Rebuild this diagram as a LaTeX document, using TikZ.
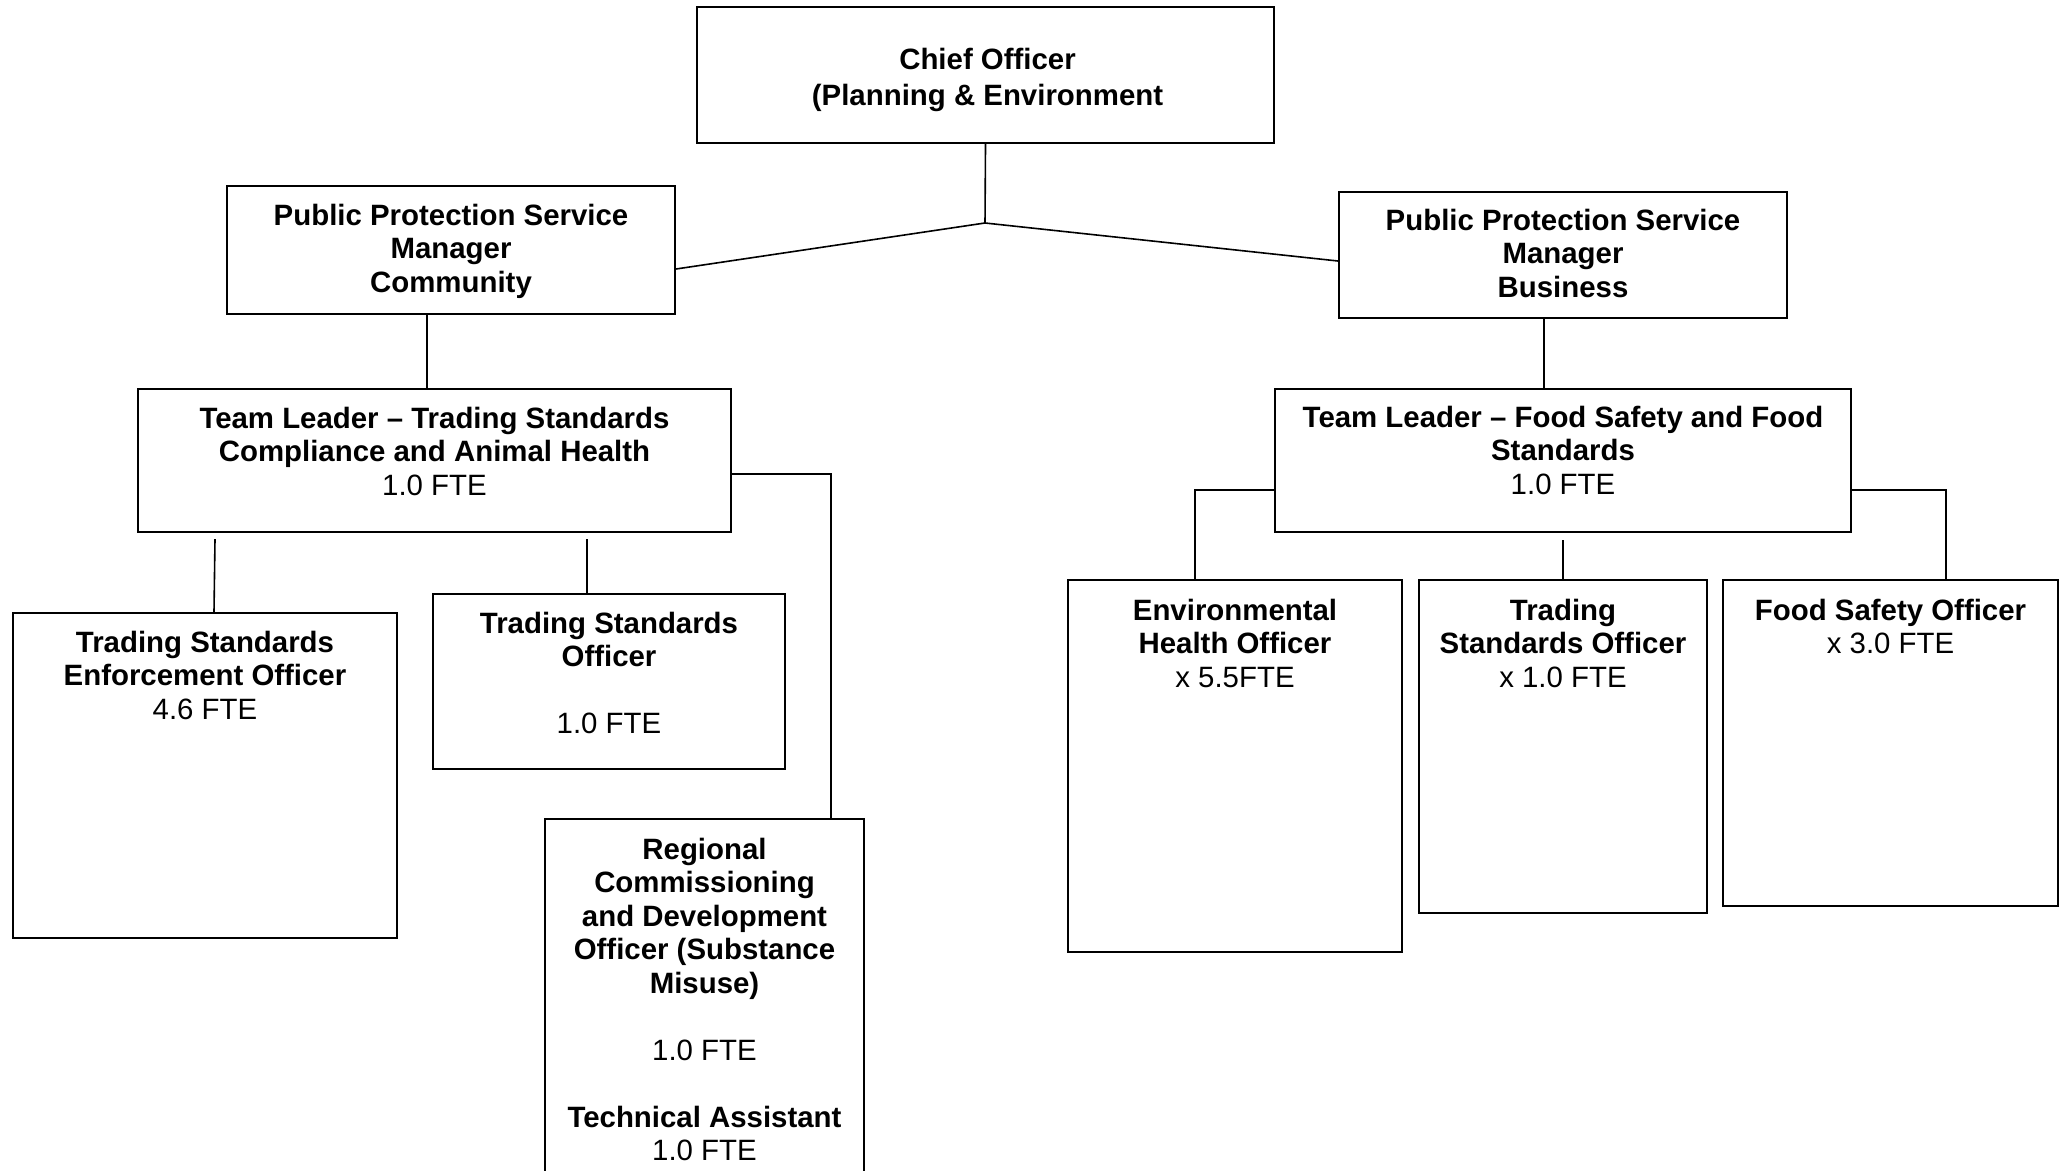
\documentclass[tikz,border=0pt]{standalone}
\usepackage{fontspec}
\setmainfont{Liberation Sans}
\usetikzlibrary{calc}
\begin{document}
\begin{tikzpicture}[x=0.5pt,y=-0.5pt,
  box/.style={draw=black, line width=1.1pt, rectangle, inner sep=0pt},
  conn/.style={draw=black, line width=0.8pt},
  ttl/.style={anchor=north, inner sep=0pt, align=center, font=\fontsize{14.7pt}{16.75pt}\selectfont\bfseries},
]
\useasboundingbox (0,0) rectangle (2059,1171);
\fill[white] (0,0) rectangle (2059,1171);

% boxes
\node[box, minimum width=288.5pt, minimum height=68pt] (chief) at (985.5,75) {};
\node[box, minimum width=224pt, minimum height=64pt] (ppsmC) at (451,250) {};
\node[box, minimum width=224pt, minimum height=63pt] (ppsmB) at (1563,255) {};
\node[box, minimum width=296.5pt, minimum height=71.5pt] (tlts) at (434.5,460.5) {};
\node[box, minimum width=288pt, minimum height=71.5pt] (tlfs) at (1563,460.5) {};
\node[box, minimum width=192pt, minimum height=162.5pt] (tse) at (205,775.5) {};
\node[box, minimum width=176pt, minimum height=87.5pt] (tso) at (609,681.5) {};
\node[box, minimum width=159.5pt, minimum height=185.5pt] (reg) at (704.5,1004.5) {};
\node[box, minimum width=167pt, minimum height=186pt] (eho) at (1235,766) {};
\node[box, minimum width=144pt, minimum height=166.5pt] (tsob) at (1563,746.5) {};
\node[box, minimum width=167.5pt, minimum height=163pt] (fso) at (1890.5,743) {};

% texts
\node[ttl, anchor=center, font=\fontsize{14.7pt}{17.75pt}\selectfont\bfseries] (chiefT) at ($(chief.center)+(2,5)$) {Chief Officer\\(Planning \& Environment};
\node[ttl] (ppsmCT) at ($(ppsmC.north)+(0,18.5)$) {Public Protection Service\\Manager\\Community};
\node[ttl] (ppsmBT) at ($(ppsmB.north)+(0,17.5)$) {Public Protection Service\\Manager\\Business};
\node[ttl] (tltsT) at ($(tlts.north)+(0,18.5)$) {Team Leader – Trading Standards\\Compliance and Animal Health\\\textmd{1.0 FTE}};
\node[ttl] (tlfsT) at ($(tlfs.north)+(0,17.5)$) {Team Leader – Food Safety and Food\\Standards\\\textmd{1.0 FTE}};
\node[ttl] (tseT) at ($(tse.north)+(0,18.5)$) {Trading Standards\\Enforcement Officer\\\textmd{4.6 FTE}};
\node[ttl] (tsoT) at ($(tso.north)+(0,18.5)$) {Trading Standards\\Officer\\[16.75pt]\textmd{1.0 FTE}};
\node[ttl] (regT) at ($(reg.north)+(0,19.5)$) {Regional\\Commissioning\\and Development\\Officer (Substance\\Misuse)\\[16.75pt]\textmd{1.0 FTE}\\[16.75pt]Technical Assistant\\\textmd{1.0 FTE}};
\node[ttl] (ehoT) at ($(eho.north)+(0,19.5)$) {Environmental\\Health Officer\\\textmd{x 5.5FTE}};
\node[ttl] (tsobT) at ($(tsob.north)+(0,19.5)$) {Trading\\Standards Officer\\\textmd{x 1.0 FTE}};
\node[ttl] (fsoT) at ($(fso.north)+(0,19.5)$) {Food Safety Officer\\\textmd{x 3.0 FTE}};

% connectors
\coordinate (j) at (985,223);
\draw[conn] (chief.south) -- (j);
\draw[conn] ($(ppsmC.east)+(0,19)$) -- (j) -- ($(ppsmB.west)+(0,6)$);
\draw[conn] ($(ppsmC.south)+(-24,0)$) -- ($(tlts.north)+(-7.5,0)$);
\draw[conn] ($(ppsmB.south)+(-19,0)$) -- ($(tlfs.north)+(-19,0)$);
\draw[conn] ($(tlts.south)+(-219.5,6)$) -- ($(tse.north)+(9,0)$);
\draw[conn] ($(tlts.south)+(152.5,6)$) -- ($(tso.north)+(-22,0)$);
\draw[conn] ($(tlts.east)+(0,13.5)$) -| ($(reg.north)+(126.5,0)$);
\draw[conn] ($(tlfs.west)+(0,29.5)$) -| ($(eho.north)+(-40,0)$);
\draw[conn] ($(tlfs.south)+(0,7)$) -- (tsob.north);
\draw[conn] ($(tlfs.east)+(0,29.5)$) -| ($(fso.north)+(55.5,0)$);
\end{tikzpicture}
\end{document}
